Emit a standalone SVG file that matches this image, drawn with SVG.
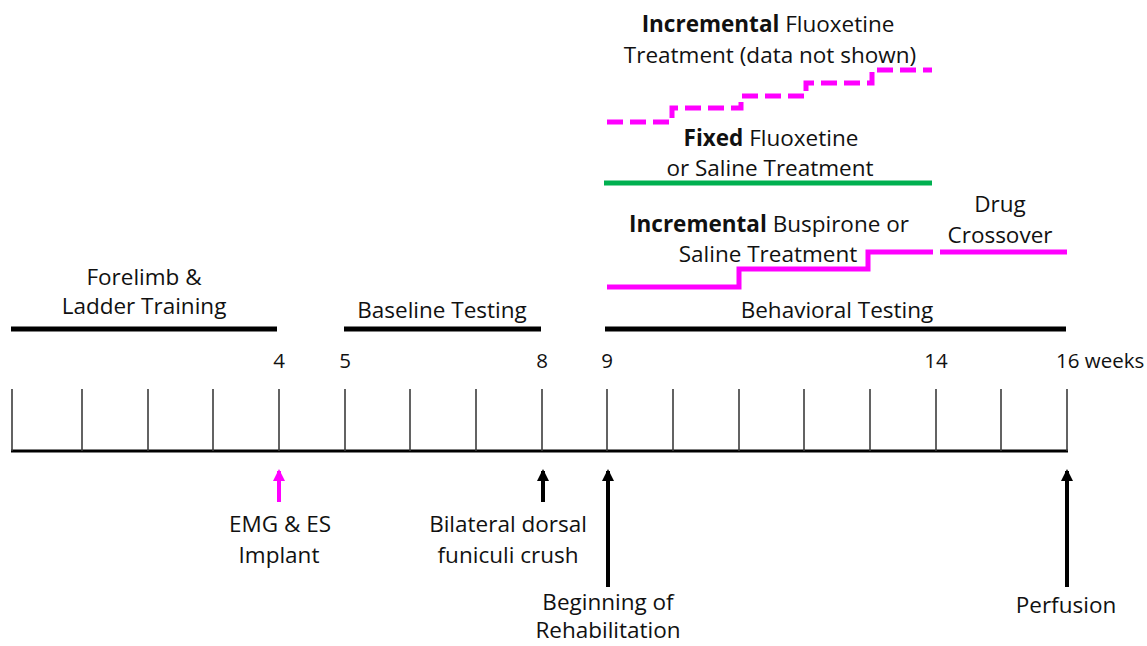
<svg xmlns="http://www.w3.org/2000/svg" width="1147" height="646" viewBox="0 0 1147 646">
<style>
text{font-family:"Open Sans","Noto Sans","Liberation Sans",sans-serif;font-size:22.5px;fill:#111;text-anchor:middle}
.b{font-weight:bold}
.num{font-size:20.5px}
.st{text-anchor:start}
.bar{stroke:#000;stroke-width:5;fill:none}
.mag{stroke:#ff00ff;stroke-width:5;fill:none}
.grn{stroke:#00b050;stroke-width:5;fill:none}
.tick{stroke:#3c3c3c;stroke-width:1.6}
.axis{stroke:#000;stroke-width:3}
.arr{stroke-width:4;fill:none}
</style>
<defs>
<marker id="hk" markerUnits="userSpaceOnUse" markerWidth="14" markerHeight="14" viewBox="0 0 14 14" refX="10" refY="6" orient="auto">
<path d="M0 0 L12 6 L0 12 Z" fill="#000"/>
</marker>
<marker id="hm" markerUnits="userSpaceOnUse" markerWidth="14" markerHeight="14" viewBox="0 0 14 14" refX="10" refY="6" orient="auto">
<path d="M0 0 L12 6 L0 12 Z" fill="#ff00ff"/>
</marker>
</defs>
<rect width="1147" height="646" fill="#fff"/>

<g id="timeline">
<line class="axis" x1="11" y1="451" x2="1068" y2="451"/>
<line class="tick" x1="12" y1="389" x2="12" y2="451"/>
<line class="tick" x1="82" y1="389" x2="82" y2="451"/>
<line class="tick" x1="148" y1="389" x2="148" y2="451"/>
<line class="tick" x1="213" y1="389" x2="213" y2="451"/>
<line class="tick" x1="279" y1="389" x2="279" y2="451"/>
<line class="tick" x1="345" y1="389" x2="345" y2="451"/>
<line class="tick" x1="410" y1="389" x2="410" y2="451"/>
<line class="tick" x1="476" y1="389" x2="476" y2="451"/>
<line class="tick" x1="542" y1="389" x2="542" y2="451"/>
<line class="tick" x1="607" y1="389" x2="607" y2="451"/>
<line class="tick" x1="673" y1="389" x2="673" y2="451"/>
<line class="tick" x1="739" y1="389" x2="739" y2="451"/>
<line class="tick" x1="804" y1="389" x2="804" y2="451"/>
<line class="tick" x1="870" y1="389" x2="870" y2="451"/>
<line class="tick" x1="936" y1="389" x2="936" y2="451"/>
<line class="tick" x1="1001" y1="389" x2="1001" y2="451"/>
<line class="tick" x1="1067" y1="389" x2="1067" y2="451"/>
<text class="num" x="279" y="368">4</text>
<text class="num" x="345" y="368">5</text>
<text class="num" x="542" y="368">8</text>
<text class="num" x="607" y="368">9</text>
<text class="num" x="936" y="368">14</text>
<text class="num st" x="1056" y="368">16 weeks</text>
</g>

<g id="forelimb-training">
<line class="bar" x1="11" y1="329" x2="277" y2="329"/>
<text x="144" y="285">Forelimb &amp;</text>
<text x="144" y="314">Ladder Training</text>
</g>

<g id="baseline-testing">
<line class="bar" x1="344" y1="329" x2="541" y2="329"/>
<text x="442" y="318">Baseline Testing</text>
</g>

<g id="behavioral-testing">
<line class="bar" x1="605" y1="329" x2="1066" y2="329"/>
<text x="837" y="318">Behavioral Testing</text>
</g>

<g id="buspirone">
<path class="mag" d="M607 287 H739 V269 H868 V252 H933"/>
<text x="769" y="232"><tspan class="b">Incremental</tspan> Buspirone or</text>
<text x="768" y="262">Saline Treatment</text>
</g>

<g id="crossover">
<line class="mag" x1="940" y1="252" x2="1067" y2="252"/>
<text x="1000" y="212">Drug</text>
<text x="1000" y="243">Crossover</text>
</g>

<g id="fixed-fluoxetine">
<line class="grn" x1="604" y1="183" x2="932" y2="183"/>
<text x="771" y="146"><tspan class="b">Fixed</tspan> Fluoxetine</text>
<text x="770" y="176">or Saline Treatment</text>
</g>

<g id="incremental-fluoxetine">
<path class="mag" stroke-dasharray="16 7" d="M607 122 H672 V108 H741 V96 H806 V83 H872 V70 H932"/>
<text x="768" y="32"><tspan class="b">Incremental</tspan> Fluoxetine</text>
<text x="770" y="63">Treatment (data not shown)</text>
</g>

<g id="events">
<text x="280" y="532">EMG &amp; ES</text>
<text x="279" y="563">Implant</text>
<text x="508" y="532">Bilateral dorsal</text>
<text x="508" y="563">funiculi crush</text>
<text x="608" y="610">Beginning of</text>
<text x="608" y="638">Rehabilitation</text>
<text x="1066" y="613">Perfusion</text>
</g>

<g id="connectors">
<line class="arr" stroke="#ff00ff" x1="279" y1="502" x2="279" y2="471" marker-end="url(#hm)"/>
<line class="arr" stroke="#000" x1="543" y1="502" x2="543" y2="471" marker-end="url(#hk)"/>
<line class="arr" stroke="#000" x1="608" y1="587" x2="608" y2="471" marker-end="url(#hk)"/>
<line class="arr" stroke="#000" x1="1067" y1="587" x2="1067" y2="471" marker-end="url(#hk)"/>
</g>
</svg>
